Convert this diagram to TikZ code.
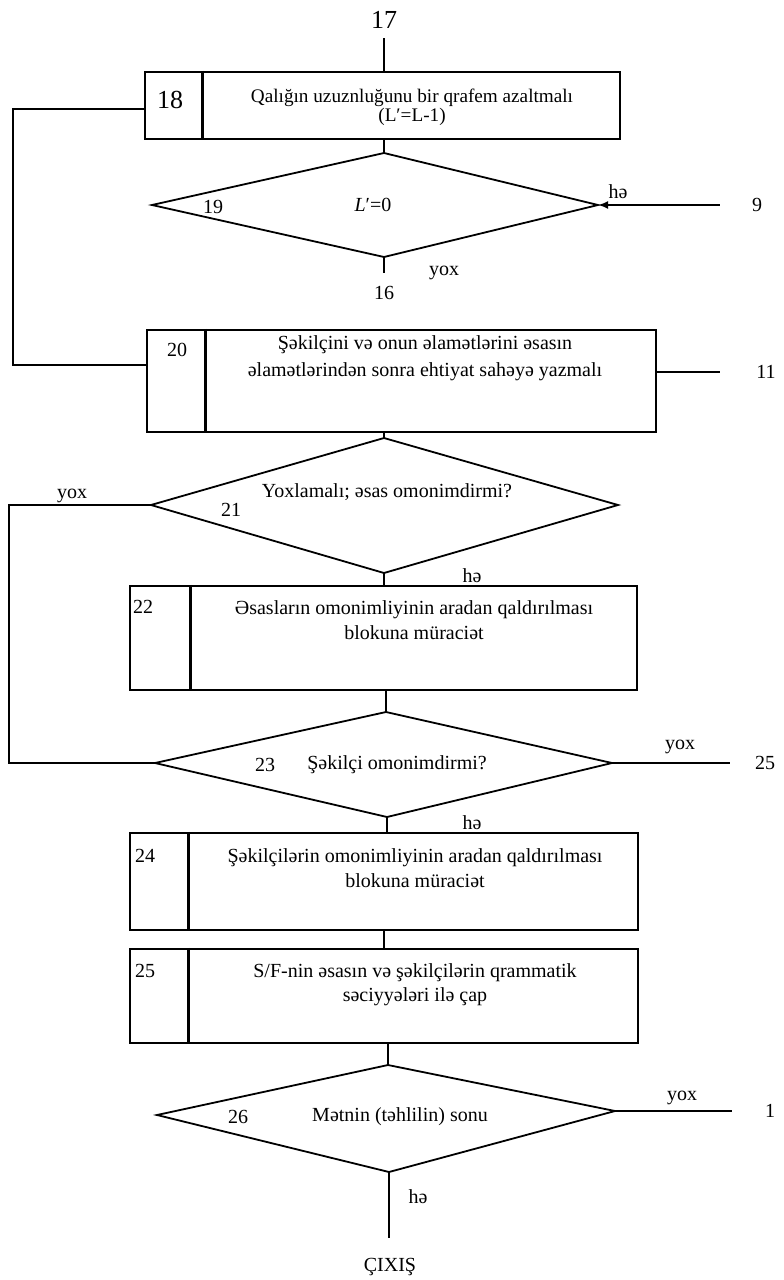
\documentclass[tikz,border=0pt]{standalone}
\usepackage{fontspec}
\setmainfont{Liberation Serif}
\usetikzlibrary{arrows.meta,calc}
\begin{document}
\begin{tikzpicture}[x=0.5pt,y=-0.5pt,
  box/.style={draw,line width=1.2pt,rectangle,inner sep=0pt},
  divider/.style={line width=1.5pt},
  dia/.style={line width=0.9pt},
  conn/.style={line width=1pt},
  lbl/.style={inner sep=0pt,font=\fontsize{10}{12}\selectfont},
  btxt/.style={inner sep=0pt,align=center},
  big/.style={inner sep=0pt,font=\fontsize{13}{15}\selectfont}]
\useasboundingbox (0,0) rectangle (783,1280);
% boxes
\node[box,minimum width=237.5pt,minimum height=33.5pt] (b18) at (382.5,105.5) {};
\node[box,minimum width=254.5pt,minimum height=51pt] (b20) at (401.5,381) {};
\node[box,minimum width=253.5pt,minimum height=52pt] (b22) at (383.5,638) {};
\node[box,minimum width=254pt,minimum height=48.5pt] (b24) at (384,881.5) {};
\node[box,minimum width=254pt,minimum height=47pt] (b25) at (384,996) {};
\draw[divider] ([xshift=29.5pt]b18.north west) -- ([xshift=29.5pt]b18.south west);
\draw[divider] ([xshift=30pt]b20.north west) -- ([xshift=30pt]b20.south west);
\draw[divider] ([xshift=31pt]b22.north west) -- ([xshift=31pt]b22.south west);
\draw[divider] ([xshift=30pt]b24.north west) -- ([xshift=30pt]b24.south west);
\draw[divider] ([xshift=30pt]b25.north west) -- ([xshift=30pt]b25.south west);
% diamonds
\coordinate (d19t) at (384,153); \coordinate (d19r) at (598,205);
\coordinate (d19b) at (384,257); \coordinate (d19l) at (152,205);
\coordinate (d21t) at (384,438); \coordinate (d21r) at (618,505);
\coordinate (d21b) at (384,573); \coordinate (d21l) at (151,505);
\coordinate (d23t) at (386,712); \coordinate (d23r) at (612,763);
\coordinate (d23b) at (387,817); \coordinate (d23l) at (155,763);
\coordinate (d26t) at (388,1065); \coordinate (d26r) at (615,1111);
\coordinate (d26b) at (389,1172); \coordinate (d26l) at (157,1115);
\draw[dia] (d19t) -- (d19r) -- (d19b) -- (d19l) -- cycle;
\draw[dia] (d21t) -- (d21r) -- (d21b) -- (d21l) -- cycle;
\draw[dia] (d23t) -- (d23r) -- (d23b) -- (d23l) -- cycle;
\draw[dia] (d26t) -- (d26r) -- (d26b) -- (d26l) -- cycle;
% free ends
\coordinate (s17) at (384,38);
\coordinate (e16) at (384,273);
\coordinate (e9) at (720,205);
\coordinate (e11) at (720,372);
\coordinate (e25) at (730,763);
\coordinate (e1) at (732,1111);
\coordinate (eout) at (389,1238);
\coordinate (L1a) at (13,109); \coordinate (L1b) at (13,365);
\coordinate (L2a) at (9,505); \coordinate (L2b) at (9,763);
% connectors
\draw[conn] (s17) -- (s17 |- b18.north);
\draw[conn] (d19t |- b18.south) -- (d19t);
\draw[conn] (d19b) -- (e16);
\draw[conn,{Latex[length=5pt,width=4pt]}-] (d19r) -- (e9);
\draw[conn] (b18.west |- L1a) -- (L1a) -- (L1b) -- (b20.west |- L1b);
\draw[conn] (b20.east |- e11) -- (e11);
\draw[conn] (d21t |- b20.south) -- (d21t);
\draw[conn] (d21b) -- (d21b |- b22.north);
\draw[conn] (d21l) -- (L2a) -- (L2b) -- (d23l);
\draw[conn] (d23t |- b22.south) -- (d23t);
\draw[conn] (d23r) -- (e25);
\draw[conn] (d23b) -- (d23b |- b24.north);
\draw[conn] (b24.south) -- (b25.north);
\draw[conn] (d26t |- b25.south) -- (d26t);
\draw[conn] (d26r) -- (e1);
\draw[conn] (d26b) -- (eout);
% texts
\node[big] (t17) at (384,20) {17};
\node[big] (t18) at (170,100) {18};
\node[btxt,font=\fontsize{9.6}{9.6}\selectfont] (x18) at (412,107) {Qalığın uzuznluğunu bir qrafem azaltmalı\\(L′=L-1)};
\node[lbl] (t19) at (213,207) {19};
\node[lbl] (x19) at (373,205) {\textit{L}′=0};
\node[lbl] (h19) at (618,192) {hə};
\node[lbl] (t9) at (757,205) {9};
\node[lbl] (y19) at (444,273) {yox};
\node[lbl] (t16) at (384,293) {16};
\node[lbl] (t20) at (177,350) {20};
\node[btxt,font=\fontsize{10}{13.5}\selectfont] (x20) at (425,358) {Şəkilçini və onun əlamətlərini əsasın\\əlamətlərindən sonra ehtiyat sahəyə yazmalı};
\node[lbl] (t11) at (766,372) {11};
\node[lbl] (t21) at (231,510) {21};
\node[lbl] (x21) at (387,492) {Yoxlamalı; əsas omonimdirmi?};
\node[lbl] (y21) at (72,496) {yox};
\node[lbl] (h21) at (472,576) {hə};
\node[lbl] (t22) at (143,607) {22};
\node[btxt,font=\fontsize{10}{12.5}\selectfont] (x22) at (414,620) {Əsasların omonimliyinin aradan qaldırılması\\blokuna müraciət};
\node[lbl] (t23) at (265,765) {23};
\node[lbl] (x23) at (397,765) {Şəkilçi omonimdirmi?};
\node[lbl] (y23) at (680,747) {yox};
\node[lbl] (t25r) at (765,763) {25};
\node[lbl] (h23) at (472,823) {hə};
\node[lbl] (t24) at (145,856) {24};
\node[btxt,font=\fontsize{10}{12.5}\selectfont] (x24) at (415,868) {Şəkilçilərin omonimliyinin aradan qaldırılması\\blokuna müraciət};
\node[lbl] (t25) at (145,971) {25};
\node[btxt,font=\fontsize{10}{12}\selectfont] (x25) at (415,985) {S/F-nin əsasın və şəkilçilərin qrammatik\\səciyyələri ilə çap};
\node[lbl] (t26) at (238,1117) {26};
\node[lbl] (x26) at (400,1117) {Mətnin (təhlilin) sonu};
\node[lbl] (y26) at (682,1098) {yox};
\node[lbl] (t1) at (770,1111) {1};
\node[lbl] (h26) at (418,1197) {hə};
\node[lbl] (tout) at (390,1267) {ÇIXIŞ};
\end{tikzpicture}
\end{document}
